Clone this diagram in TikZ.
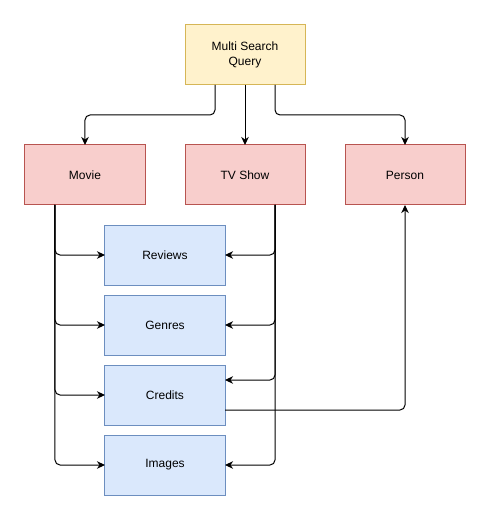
\documentclass[tikz,border=0pt]{standalone}
\usepackage{fontspec}
\setmainfont{Liberation Sans}
\usetikzlibrary{positioning,arrows.meta}
\definecolor{queryfill}{HTML}{FFF2CC}
\definecolor{querydraw}{HTML}{D6B656}
\definecolor{typefill}{HTML}{F8CECC}
\definecolor{typedraw}{HTML}{B85450}
\definecolor{partfill}{HTML}{DAE8FC}
\definecolor{partdraw}{HTML}{6C8EBF}

\tikzset{
    box/.style={draw, line width=1pt, rectangle, minimum width=120pt, minimum height=60pt, inner sep=0pt, outer sep=0pt, align=center, font=\fontsize{12pt}{14.5pt}\selectfont},
    querybox/.style={box, fill=queryfill, draw=querydraw},
    typebox/.style={box, fill=typefill, draw=typedraw},
    partbox/.style={box, fill=partfill, draw=partdraw},
    link/.style={-{Stealth[length=8pt,width=7.5pt,inset=2.5pt]}, line width=1pt, rounded corners=5pt}
}

\begin{document}
\begin{tikzpicture}
    \useasboundingbox (-245pt,55pt) rectangle (246pt,-466pt);

    \node (query) [querybox] at (0,0) {Multi Search\\Query};
    \node (movie) [typebox, below left=60pt and 40pt of query] {Movie};
    \node (tvshow) [typebox, below=60pt of query] {TV Show};
    \node (person) [typebox, below right=60pt and 40pt of query] {Person};

    \node (reviews) [partbox, below=20pt of movie, xshift=80pt] {Reviews};
    \node (genres) [partbox, below=10pt of reviews] {Genres};
    \node (credits) [partbox, below=10pt of genres] {Credits};
    \node (images) [partbox, below=10pt of credits] {Images};

    \draw[link] ([xshift=-30pt]query.south) -- ++(0,-30pt) -| (movie.north);
    \draw[link] (query) -- (tvshow);
    \draw[link] ([xshift=30pt]query.south) -- ++(0,-30pt) -| (person.north);

    \draw[link] ([xshift=-30pt]movie.south) |- (reviews.west);
    \draw[link] ([xshift=-30pt]movie.south) |- (genres.west);
    \draw[link] ([xshift=-30pt]movie.south) |- (credits.west);
    \draw[link] ([xshift=-30pt]movie.south) |- (images.west);

    \draw[link] ([xshift=30pt]tvshow.south) |- (reviews.east);
    \draw[link] ([xshift=30pt]tvshow.south) |- (genres.east);
    \draw[link] ([xshift=30pt]tvshow.south) |- ([yshift=15pt]credits.east);
    \draw[link] ([xshift=30pt]tvshow.south) |- (images.east);

    \draw[link] ([yshift=-15pt]credits.east) -| (person.south);
\end{tikzpicture}
\end{document}
